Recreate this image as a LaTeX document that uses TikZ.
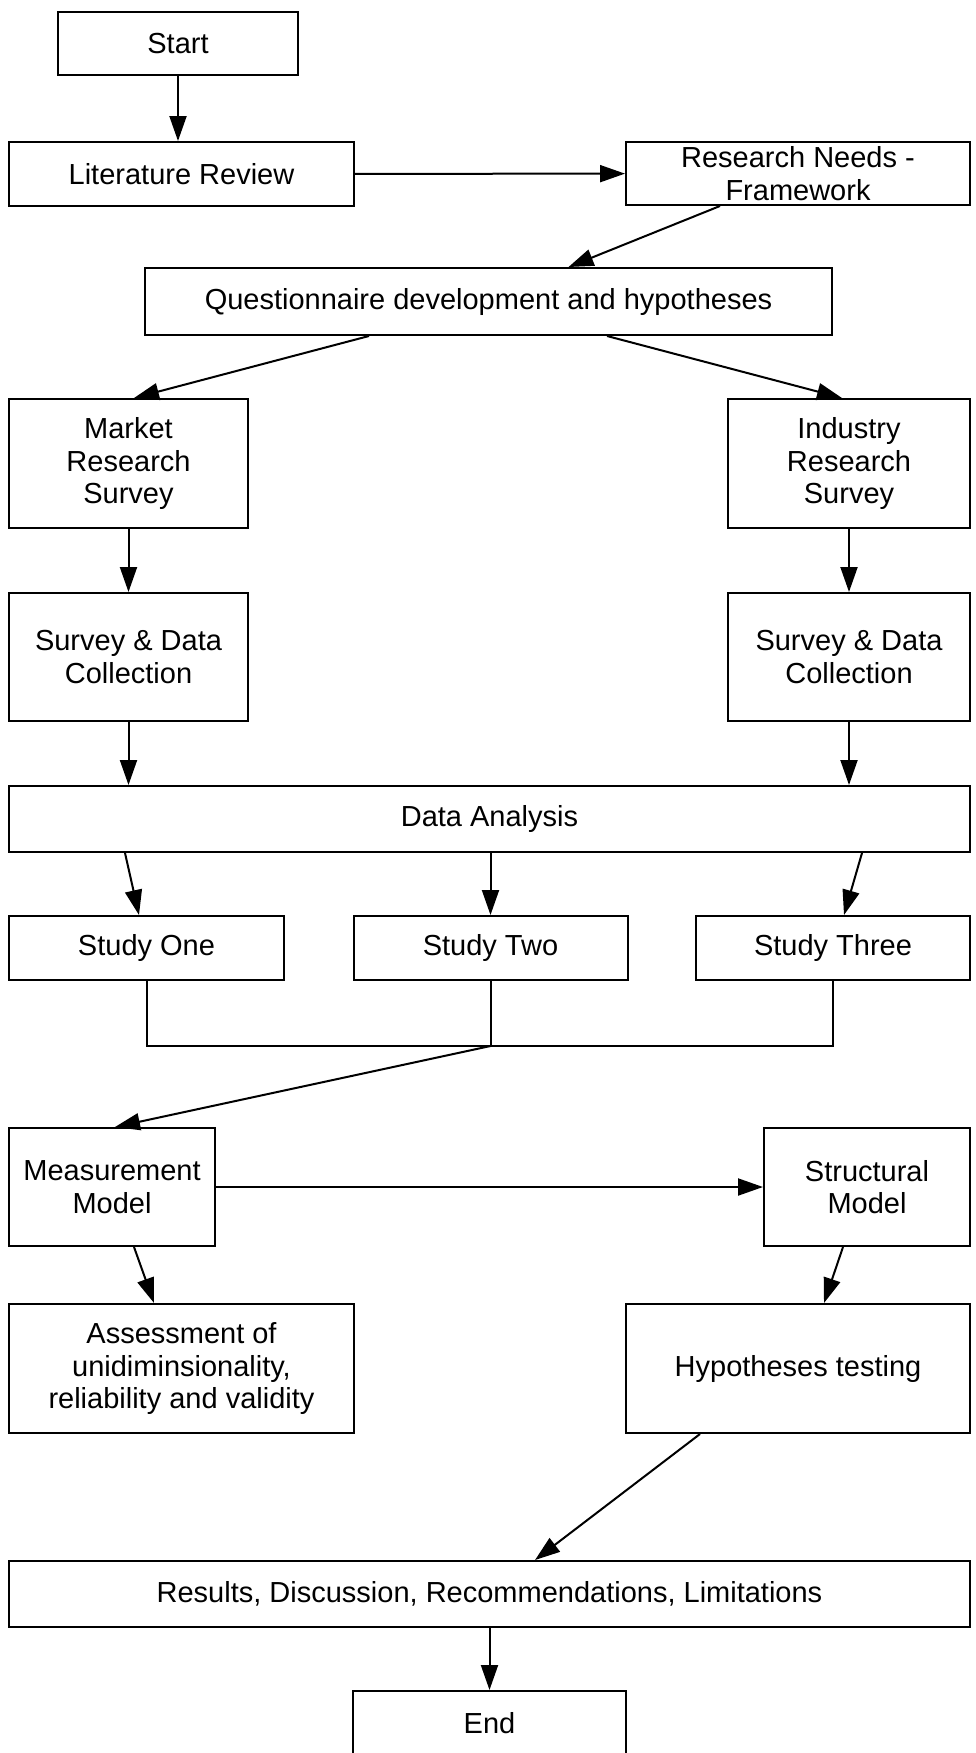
\documentclass[tikz,border=0pt]{standalone}
\usepackage{fontspec}
\setmainfont{Liberation Sans}
\usetikzlibrary{arrows.meta}
\begin{document}
\begin{tikzpicture}[x=1pt,y=-1pt,
  box/.style={draw, line width=2pt, align=center, inner sep=0pt,
    font=\fontsize{29}{32.5}\selectfont},
  conn/.style={line width=2pt},
  arr/.style={conn, -{Triangle[length=25pt,width=17pt]}}]
\useasboundingbox (0,0) rectangle (975,1753);

% boxes
\node[box, minimum width=240, minimum height=63] (start) at (178,43.5) {Start};
\node[box, minimum width=345, minimum height=64] (lit) at (181.5,174) {Literature Review};
\node[box, minimum width=344, minimum height=63] (rn) at (798,173.5) {Research Needs -\\Framework};
\node[box, minimum width=687, minimum height=67] (q) at (488.5,301.5) {Questionnaire development and hypotheses};
\node[box, minimum width=239, minimum height=129] (mrs) at (128.5,463.5) {Market\\Research\\Survey};
\node[box, minimum width=242, minimum height=129] (irs) at (849,463.5) {Industry\\Research\\Survey};
\node[box, minimum width=239, minimum height=128] (sdl) at (128.5,657) {Survey \& Data\\Collection};
\node[box, minimum width=242, minimum height=128] (sdr) at (849,657) {Survey \& Data\\Collection};
\node[box, minimum width=961, minimum height=66] (da) at (489.5,819) {Data Analysis};
\node[box, minimum width=275, minimum height=64] (s1) at (146.5,948) {Study One};
\node[box, minimum width=274, minimum height=64] (s2) at (490.5,948) {Study Two};
\node[box, minimum width=274, minimum height=64] (s3) at (833,948) {Study Three};
\coordinate (j) at (490.5,1046);
\node[box, minimum width=206, minimum height=118] (mm) at (112,1187) {Measurement\\Model};
\node[box, minimum width=206, minimum height=118] (sm) at (867,1187) {Structural\\Model};
\node[box, minimum width=345, minimum height=129] (ass) at (181.5,1368.5) {Assessment of\\unidiminsionality,\\reliability and validity};
\node[box, minimum width=344, minimum height=129] (ht) at (798,1368.5) {Hypotheses testing};
\node[box, minimum width=961, minimum height=66] (res) at (489.5,1594) {Results, Discussion, Recommendations, Limitations};
\node[box, minimum width=273, minimum height=64] (end) at (489.5,1723) {End};

% connectors
\draw[arr] (start.south) -- (start.south |- lit.north);
\draw[arr] (lit) -- (rn);
\draw[arr] ([xshift=-78pt]rn.south) -- ([xshift=80pt]q.north);
\draw[arr] ([xshift=-119.5pt]q.south) -- ([xshift=5.5pt]mrs.north);
\draw[arr] ([xshift=118.5pt]q.south) -- ([xshift=-7pt]irs.north);
\draw[arr] (mrs) -- (sdl);
\draw[arr] (irs) -- (sdr);
\draw[arr] (sdl.south) -- (sdl.south |- da.north);
\draw[arr] (sdr.south) -- (sdr.south |- da.north);
\draw[arr] ([xshift=-364.5pt]da.south) -- ([xshift=-7.5pt]s1.north);
\draw[arr] (s2.north |- da.south) -- (s2.north);
\draw[arr] ([xshift=372.5pt]da.south) -- ([xshift=11pt]s3.north);
\draw[conn] (s1.south) -- (s1.south |- j) -- (s3.south |- j) -- (s3.south);
\draw[conn] (s2.south) -- (j);
\draw[arr] (j) -- ([xshift=3pt]mm.north);
\draw[arr] (mm) -- (sm);
\draw[arr] ([xshift=22pt]mm.south) -- ([xshift=-27.5pt]ass.north);
\draw[arr] ([xshift=-24pt]sm.south) -- ([xshift=26pt]ht.north);
\draw[arr] ([xshift=-98pt]ht.south) -- ([xshift=45.5pt]res.north);
\draw[arr] (res) -- (end);
\end{tikzpicture}
\end{document}
